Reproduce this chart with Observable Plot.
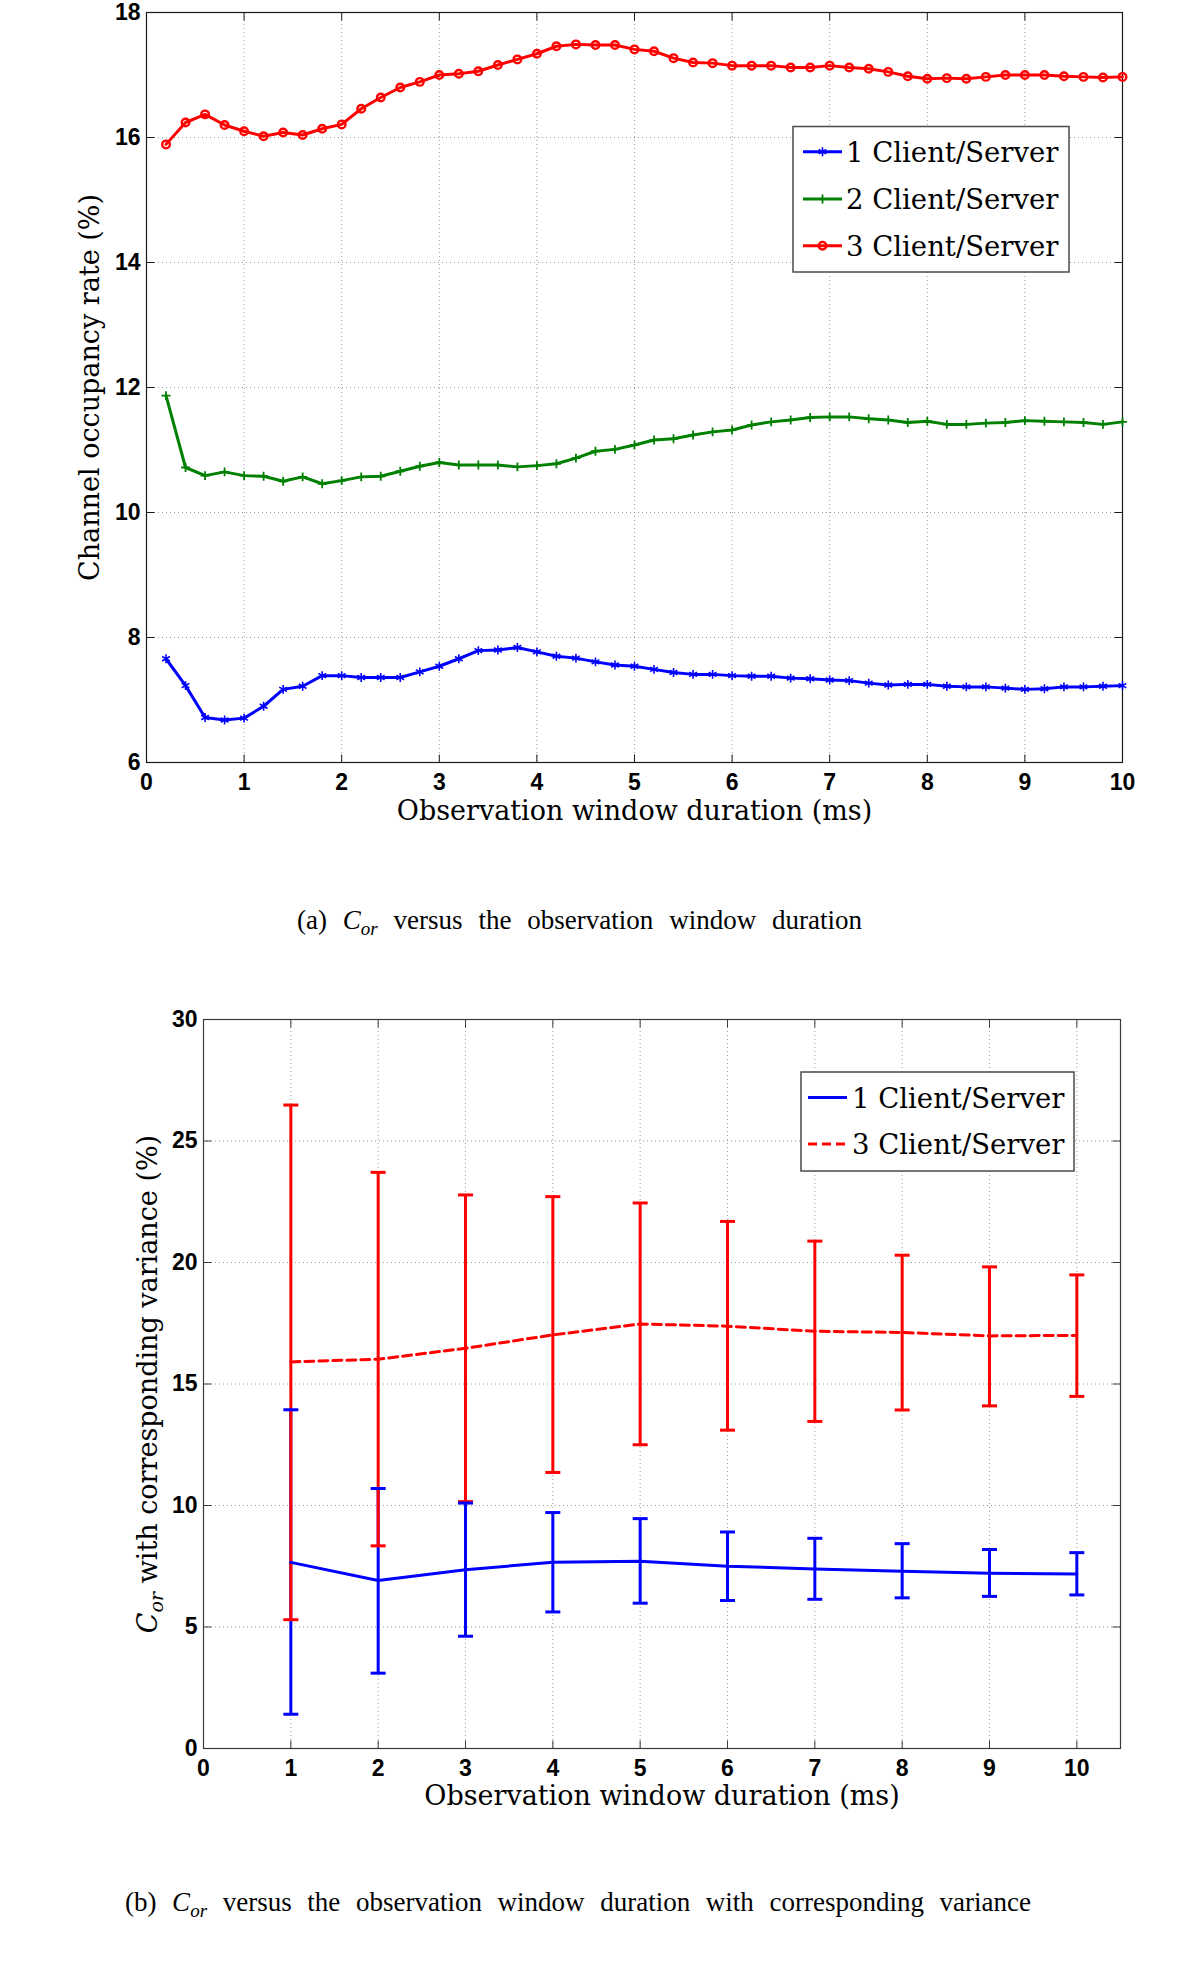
<!DOCTYPE html>
<html>
<head>
<meta charset="utf-8">
<script src="https://cdn.jsdelivr.net/npm/d3@7"></script>
<script src="https://cdn.jsdelivr.net/npm/@observablehq/plot@0.6"></script>
<style>
  html, body { margin: 0; padding: 0; background: #ffffff; }
  body { width: 1200px; height: 1966px; position: relative; overflow: hidden; }
  .plotbox { position: absolute; left: 0; }
</style>
</head>
<body>
<div id="p1" class="plotbox" style="top:0px"></div>
<div id="p2" class="plotbox" style="top:960px"></div>
<script>
// ---------------- DATA: panel (a) ----------------
const windowMsA = [0.2,0.4,0.6,0.8,1.0,1.2,1.4,1.6,1.8,2.0,2.2,2.4,2.6,2.8,3.0,3.2,3.4,3.6,3.8,4.0,4.2,4.4,4.6,4.8,5.0,5.2,5.4,5.6,5.8,6.0,6.2,6.4,6.6,6.8,7.0,7.2,7.4,7.6,7.8,8.0,8.2,8.4,8.6,8.8,9.0,9.2,9.4,9.6,9.8,10.0];
const occupancy1 = [7.66,7.23,6.72,6.68,6.71,6.90,7.17,7.22,7.39,7.39,7.36,7.36,7.36,7.45,7.54,7.66,7.79,7.80,7.84,7.77,7.70,7.67,7.61,7.56,7.54,7.49,7.44,7.41,7.41,7.39,7.38,7.38,7.35,7.34,7.32,7.31,7.27,7.24,7.25,7.25,7.22,7.21,7.21,7.19,7.17,7.18,7.21,7.21,7.22,7.23];
const occupancy2 = [11.87,10.72,10.59,10.65,10.59,10.58,10.50,10.57,10.46,10.51,10.57,10.58,10.66,10.74,10.80,10.76,10.76,10.76,10.73,10.75,10.78,10.87,10.98,11.01,11.08,11.16,11.18,11.24,11.29,11.32,11.40,11.45,11.48,11.52,11.53,11.53,11.50,11.48,11.44,11.46,11.41,11.41,11.43,11.44,11.47,11.46,11.45,11.44,11.41,11.45];
const occupancy3 = [15.89,16.24,16.37,16.20,16.10,16.02,16.08,16.04,16.14,16.21,16.46,16.64,16.80,16.89,17.00,17.02,17.06,17.16,17.25,17.34,17.46,17.49,17.48,17.48,17.41,17.38,17.27,17.20,17.19,17.15,17.15,17.15,17.12,17.12,17.15,17.12,17.10,17.05,16.98,16.94,16.95,16.94,16.97,17.00,17.00,17.00,16.98,16.97,16.96,16.97];
const seriesNamesA = ["1 Client/Server", "2 Client/Server", "3 Client/Server"];
const seriesColorsA = ["#0000ff", "#008000", "#ff0000"];
const xTicksA = [0,1,2,3,4,5,6,7,8,9,10];
const yTicksA = [6,8,10,12,14,16,18];
const xLabelA = "Observation window duration (ms)";
const yLabelA = "Channel occupancy rate (%)";

// ---------------- DATA: panel (b) ----------------
const windowMsB = [1,2,3,4,5,6,7,8,9,10];
const mean1 = [7.66,6.91,7.36,7.66,7.71,7.50,7.39,7.29,7.21,7.18];
const low1  = [1.41,3.10,4.62,5.62,5.98,6.09,6.14,6.20,6.26,6.32];
const high1 = [13.94,10.70,10.10,9.71,9.46,8.91,8.65,8.43,8.19,8.06];
const mean3 = [15.91,16.02,16.47,17.02,17.47,17.38,17.17,17.12,16.98,17.00];
const low3  = [5.30,8.34,10.16,11.36,12.50,13.10,13.46,13.93,14.10,14.49];
const high3 = [26.48,23.71,22.78,22.71,22.45,21.69,20.88,20.30,19.82,19.49];
const seriesNamesB = ["1 Client/Server", "3 Client/Server"];
const seriesColorsB = ["#0000ff", "#ff0000"];
const xTicksB = [0,1,2,3,4,5,6,7,8,9,10];
const yTicksB = [0,5,10,15,20,25,30];
const xLabelB = "Observation window duration (ms)";
const yLabelB = "Cor with corresponding variance (%)";

const captionA = [[{t:"(a)"}], [{t:"C", i:true}, {t:"or", i:true, sub:true}], [{t:"versus"}], [{t:"the"}], [{t:"observation"}], [{t:"window"}], [{t:"duration"}]];
const captionB = [[{t:"(b)"}], [{t:"C", i:true}, {t:"or", i:true, sub:true}], [{t:"versus"}], [{t:"the"}], [{t:"observation"}], [{t:"window"}], [{t:"duration"}], [{t:"with"}], [{t:"corresponding"}], [{t:"variance"}]];

// ---------------- helpers ----------------
const tickSym = (dx, dy) => ({draw(c) { c.moveTo(0, 0); c.lineTo(dx, dy); }});
const capSym = {draw(c) { c.moveTo(-7.5, 0); c.lineTo(7.5, 0); }};
const TICK_FONT = "'Liberation Sans', Arial, Helvetica, sans-serif";
const SERIF = "'DejaVu Serif', serif";

function frameMarks(xT, yT, xGrid, yGrid, frameColor) {
  const tk = {fill: "none", stroke: frameColor, strokeWidth: 1};
  return [
    Plot.ruleX(xGrid, {x: d => d, stroke: "#9a9a9a", strokeWidth: 1, strokeDasharray: "1,3"}),
    Plot.ruleY(yGrid, {y: d => d, stroke: "#9a9a9a", strokeWidth: 1, strokeDasharray: "1,3"}),
    Plot.dot(xT, {x: d => d, frameAnchor: "bottom", symbol: tickSym(0, -8), ...tk}),
    Plot.dot(xT, {x: d => d, frameAnchor: "top", symbol: tickSym(0, 8), ...tk}),
    Plot.dot(yT, {y: d => d, frameAnchor: "left", symbol: tickSym(8, 0), ...tk}),
    Plot.dot(yT, {y: d => d, frameAnchor: "right", symbol: tickSym(-8, 0), ...tk}),
    Plot.frame({stroke: frameColor, strokeWidth: 1.2})
  ];
}
function axisMarks(xT, yT, padX) {
  const f = {fontSize: 23, fontWeight: "bold", fontFamily: TICK_FONT, fill: "#000"};
  return [
    Plot.axisX({ticks: xT, tickSize: 0, tickPadding: padX, label: null, tickFormat: d => String(d), ...f}),
    Plot.axisY({ticks: yT, tickSize: 0, tickPadding: 6, label: null, tickFormat: d => String(d), ...f})
  ];
}
const titleStyle = {fontFamily: SERIF, fontSize: 27, fontWeight: "normal", fill: "#000", textAnchor: "middle", lineAnchor: "middle"};

// ---------------- panel (a) ----------------
const rowsA = [];
[occupancy1, occupancy2, occupancy3].forEach((vals, k) => {
  vals.forEach((v, i) => rowsA.push({x: windowMsA[i], y: v, s: seriesNamesA[k]}));
});

const plotA = Plot.plot({
  width: 1200, height: 840,
  marginLeft: 146, marginRight: 78, marginTop: 12, marginBottom: 78,
  x: {domain: [0, 10]},
  y: {domain: [6, 18]},
  color: {domain: seriesNamesA, range: seriesColorsA},
  style: {background: "transparent", fontFamily: TICK_FONT, fontSize: "23px", overflow: "visible"},
  marks: [
    ...frameMarks(xTicksA, yTicksA, [1,2,3,4,5,6,7,8,9], [8,10,12,14,16], "#1a1a1a"),
    ...axisMarks(xTicksA, yTicksA, 11),
    Plot.line(rowsA, {x: "x", y: "y", z: "s", stroke: "s", strokeWidth: 3}),
    Plot.dot(rowsA, {filter: d => d.s === seriesNamesA[0], x: "x", y: "y", stroke: "s", fill: "none", symbol: "asterisk", r: 4.2, strokeWidth: 1.6}),
    Plot.dot(rowsA, {filter: d => d.s === seriesNamesA[1], x: "x", y: "y", stroke: "s", fill: "none", symbol: "plus", r: 3.0, strokeWidth: 1.8}),
    Plot.dot(rowsA, {filter: d => d.s === seriesNamesA[2], x: "x", y: "y", stroke: "s", fill: "none", symbol: "circle", r: 3.8, strokeWidth: 2.4}),
    Plot.text([xLabelA], {text: d => d, frameAnchor: "bottom", dy: 48.5, ...titleStyle}),
    Plot.text([yLabelA], {text: d => d, frameAnchor: "left", dx: -56, rotate: -90, ...titleStyle})
  ]
});
document.getElementById("p1").appendChild(plotA);

// ---------------- panel (b) ----------------
const barsB = [];
[[mean1, low1, high1], [mean3, low3, high3]].forEach(([m, lo, hi], k) => {
  m.forEach((v, i) => barsB.push({x: windowMsB[i], m: v, lo: lo[i], hi: hi[i], s: seriesNamesB[k]}));
});

const plotB = Plot.plot({
  width: 1200, height: 880,
  marginLeft: 203, marginRight: 80, marginTop: 59, marginBottom: 92,
  x: {domain: [0, 10.5]},
  y: {domain: [0, 30]},
  color: {domain: seriesNamesB, range: seriesColorsB},
  style: {background: "transparent", fontFamily: TICK_FONT, fontSize: "23px", overflow: "visible"},
  marks: [
    ...frameMarks(xTicksB, yTicksB, [1,2,3,4,5,6,7,8,9,10], [5,10,15,20,25], "#3a3a3a"),
    ...axisMarks(xTicksB, yTicksB, 11),
    Plot.ruleX(barsB, {x: "x", y1: "lo", y2: "hi", stroke: "s", strokeWidth: 3}),
    Plot.dot(barsB, {x: "x", y: "lo", stroke: "s", fill: "none", symbol: capSym, strokeWidth: 3}),
    Plot.dot(barsB, {x: "x", y: "hi", stroke: "s", fill: "none", symbol: capSym, strokeWidth: 3}),
    Plot.line(barsB, {filter: d => d.s === seriesNamesB[0], x: "x", y: "m", stroke: "s", strokeWidth: 3}),
    Plot.line(barsB, {filter: d => d.s === seriesNamesB[1], x: "x", y: "m", stroke: "s", strokeWidth: 3, strokeDasharray: "9,5"}),
    Plot.text([xLabelB], {text: d => d, frameAnchor: "bottom", dy: 48, ...titleStyle}),
    Plot.text([yLabelB], {text: d => d, frameAnchor: "left", dx: -55, rotate: -90, ...titleStyle})
  ]
});
document.getElementById("p2").appendChild(plotB);

// italic C with subscript "or" in the y-axis title of panel (b)
d3.select(plotB).selectAll("text").filter(function () { return this.textContent === yLabelB; }).each(function () {
  const t = d3.select(this);
  t.text("");
  t.append("tspan").attr("font-style", "italic").text("C");
  t.append("tspan").attr("font-style", "italic").attr("font-size", 19).attr("dy", 6).text("or");
  t.append("tspan").attr("dy", -6).text(" with corresponding variance (%)");
});

// ---------------- overlay: legends and captions ----------------
const ov = d3.select("body").append("svg")
  .attr("width", 1200).attr("height", 1966)
  .style("position", "absolute").style("left", "0px").style("top", "0px");

function legend(box, rows) {
  const g = ov.append("g");
  g.append("rect").attr("x", box.x).attr("y", box.y).attr("width", box.w).attr("height", box.h)
    .attr("fill", "#fff").attr("stroke", "#4a4a4a").attr("stroke-width", 1.5);
  rows.forEach(r => {
    g.append("line").attr("x1", box.lx0).attr("x2", box.lx1).attr("y1", r.cy).attr("y2", r.cy)
      .attr("stroke", r.color).attr("stroke-width", 3).attr("stroke-dasharray", r.dash || null);
    if (r.symbol) {
      g.append("path").attr("d", d3.symbol(r.symbol, r.r * r.r * Math.PI)())
        .attr("transform", `translate(${(box.lx0 + box.lx1) / 2},${r.cy})`)
        .attr("fill", "none").attr("stroke", r.color).attr("stroke-width", r.sw);
    }
    g.append("text").attr("x", box.tx).attr("y", r.cy + 10)
      .attr("font-family", SERIF).attr("font-size", 27.5).attr("fill", "#000").text(r.name);
  });
}
legend({x: 793, y: 126.5, w: 276, h: 145.5, lx0: 803, lx1: 842, tx: 846}, [
  {name: seriesNamesA[0], color: seriesColorsA[0], cy: 151.7, symbol: d3.symbolAsterisk, r: 4.2, sw: 1.6},
  {name: seriesNamesA[1], color: seriesColorsA[1], cy: 199, symbol: d3.symbolPlus, r: 3.0, sw: 1.8},
  {name: seriesNamesA[2], color: seriesColorsA[2], cy: 245.7, symbol: d3.symbolCircle, r: 3.8, sw: 2.4}
]);
legend({x: 801, y: 1072, w: 273, h: 99, lx0: 808, lx1: 847, tx: 852}, [
  {name: seriesNamesB[0], color: seriesColorsB[0], cy: 1097.5},
  {name: seriesNamesB[1], color: seriesColorsB[1], cy: 1144, dash: "9,5"}
]);

function caption(words, x0, baseline, target) {
  const g = ov.append("g").attr("font-family", "'Liberation Serif', 'Times New Roman', serif").attr("font-size", 27).attr("fill", "#000");
  const nodes = words.map(w => {
    const t = g.append("text").attr("x", x0).attr("y", baseline);
    w.forEach(seg => {
      const ts = t.append("tspan").text(seg.t);
      if (seg.i) ts.attr("font-style", "italic");
      if (seg.sub) ts.attr("font-size", 19).attr("dy", 6);
    });
    return t;
  });
  const widths = nodes.map(n => n.node().getComputedTextLength());
  const gap = (target - d3.sum(widths)) / (nodes.length - 1);
  let x = x0;
  nodes.forEach((n, i) => { n.attr("x", x); x += widths[i] + gap; });
}
caption(captionA, 297, 929, 565);
caption(captionB, 125, 1911, 906);
</script>
</body>
</html>
